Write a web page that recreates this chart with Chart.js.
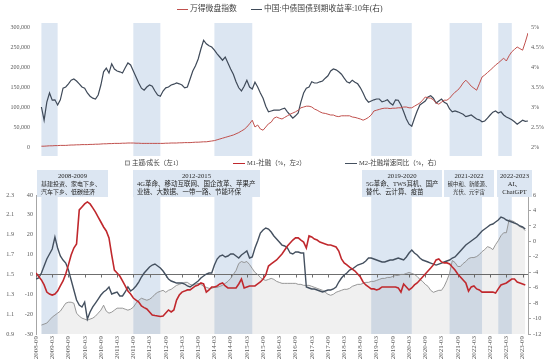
<!DOCTYPE html>
<html>
<head>
<meta charset="utf-8">
<script src="https://cdn.jsdelivr.net/npm/chart.js@4.4.0/dist/chart.umd.min.js"></script>
<style>
  html, body { margin: 0; padding: 0; background: #fff; }
  #wrap { position: relative; width: 550px; height: 363px; overflow: hidden; }
  canvas { position: absolute; left: 0; }
  #topChart { top: 0; }
  #bottomChart { top: 158px; }
</style>
</head>
<body>
<div id="wrap">
  <canvas id="topChart" width="550" height="158"></canvas>
  <canvas id="bottomChart" width="550" height="205"></canvas>
</div>
<script>
// month index 0 = 2008-09
const tickLabels = ['2008-09','2009-03','2009-09','2010-03','2010-09','2011-03','2011-09','2012-03','2012-09',
  '2013-03','2013-09','2014-03','2014-09','2015-03','2015-09','2016-03','2016-09','2017-03','2017-09',
  '2018-03','2018-09','2019-03','2019-09','2020-03','2020-09','2021-03','2021-09','2022-03','2022-09',
  '2023-03','2023-09'];

// shaded periods
const bandStart = ['2008-11', '2011-09', '2014-03', '2019-01', '2021-06', '2022-12'];
const bandEnd   = ['2009-05', '2012-07', '2015-05', '2020-04', '2022-06', '2023-05'];

const periodTitles = ['2008-2009', '2012-2015', '2019-2020', '2021-2022', '2022-2023'];
const periodThemes = [
  ['基建投资、家电下乡、', '汽车下乡、低碳经济'],
  ['4G革命、移动互联网、国企改革、苹果产', '业链、大数据、一带一路、节能环保'],
  ['5G革命、TWS耳机、国产', '替代、云计算、疫苗'],
  ['碳中和、新能源、', '光伏、元宇宙'],
  ['AI、', 'ChatGPT']
];

// top panel, monthly from 2008-11
const topStart = '2008-11';
const microcapIndex = [
  2000, 2000, 2500, 3000, 3000, 3500, 3500, 4000, 4000, 4000,
  4500, 5000, 5000, 5500, 5500, 6000, 6000, 6000, 6500, 6500,
  7000, 7000, 7500, 8000, 8000, 8500, 8500, 9000, 9000, 9000,
  9500, 9500, 10000, 10000, 10000, 9500, 9500, 9000, 9000, 9000,
  9000, 9000, 9000, 9000, 9000, 9000, 9500, 9500, 10000, 10000,
  10000, 10500, 10500, 11000, 11000, 11000, 11500, 12000, 12000, 12500,
  13000, 13000, 14000, 15000, 16000, 18000, 20000, 22000, 24000, 26000,
  28000, 30000, 33000, 36000, 40000, 44000, 50000, 58000, 67000, 50000,
  55000, 45000, 42000, 50000, 58000, 62000, 72000, 75000, 72000, 70000,
  74000, 78000, 82000, 85000, 88000, 92000, 98000, 100000, 102000, 102000,
  100000, 95000, 92000, 88000, 85000, 84000, 82000, 80000, 80000, 77000,
  76000, 78000, 78000, 78000, 78000, 75000, 74000, 72000, 70000, 67000,
  70000, 74000, 80000, 90000, 92000, 94000, 96000, 97000, 97000, 96000,
  97000, 97000, 98000, 98000, 100000, 100000, 98000, 98000, 102000, 106000,
  110000, 117000, 125000, 123000, 122000, 118000, 110000, 107000, 112000, 117000,
  117000, 122000, 130000, 137000, 142000, 150000, 160000, 167000, 160000, 152000,
  147000, 142000, 158000, 175000, 180000, 186000, 192000, 198000, 205000, 210000,
  216000, 222000, 215000, 228000, 238000, 244000, 250000, 246000, 242000, 262000,
  285000
];
const cgb10y = [
  3.00, 2.67, 3.12, 3.35, 3.17, 3.18, 3.05, 3.18, 3.47, 3.50,
  3.58, 3.67, 3.70, 3.65, 3.58, 3.50, 3.47, 3.35, 3.27, 3.22,
  3.20, 3.30, 3.55, 3.88, 3.97, 3.85, 4.08, 3.95, 3.90, 3.88,
  3.85, 3.98, 4.10, 4.05, 3.90, 3.75, 3.60, 3.47, 3.42, 3.50,
  3.55, 3.52, 3.40, 3.30, 3.27, 3.40, 3.48, 3.50, 3.55, 3.57,
  3.60, 3.58, 3.55, 3.48, 3.50, 3.70, 3.90, 4.03, 4.20, 4.45,
  4.67, 4.58, 4.53, 4.50, 4.42, 4.33, 4.25, 4.17, 4.25, 4.10,
  3.95, 3.82, 3.63, 3.48, 3.40, 3.52, 3.67, 3.50, 3.45, 3.62,
  3.50, 3.35, 3.22, 3.02, 2.88, 2.90, 2.92, 2.92, 2.92, 2.95,
  2.97, 2.88, 2.80, 2.72, 2.78, 2.85, 3.13, 3.35, 3.47, 3.50,
  3.63, 3.60, 3.60, 3.63, 3.65, 3.72, 3.78, 3.90, 3.95, 3.93,
  3.88, 3.82, 3.72, 3.63, 3.60, 3.67, 3.62, 3.58, 3.48, 3.35,
  3.20, 3.12, 3.15, 3.18, 3.20, 3.20, 3.13, 3.15, 3.18, 3.10,
  3.05, 3.18, 3.17, 3.05, 2.88, 2.70, 2.57, 2.52, 2.72, 2.90,
  3.05, 3.10, 3.15, 3.25, 3.28, 3.22, 3.10, 3.15, 3.20, 3.12,
  3.08, 2.95, 2.88, 2.90, 2.88, 2.85, 2.82, 2.76, 2.78, 2.80,
  2.75, 2.70, 2.68, 2.63, 2.65, 2.72, 2.80, 2.87, 2.90, 2.85,
  2.88, 2.80, 2.75, 2.72, 2.68, 2.63, 2.57, 2.62, 2.67, 2.64,
  2.65
];

// bottom panel, monthly from 2008-09 (theme ratio from 2008-11)
const gapStart = '2008-09';
const m1Gap = [
  0.7, -1.0, -2.8, -5.3, -8.9, -9.9, -10.4, -9.9, -8.4, -5.8,
  -3.3, 0.2, 4.8, 9.8, 13.3, 15.3, 32.5, 34.0, 35.5, 36.5,
  35.5, 33.5, 31.4, 28.9, 26.4, 23.9, 21.9, 18.4, 9.8, 2.2,
  0.7, -0.8, -3.3, -5.8, -8.4, -9.9, -11.9, -12.9, -13.9, -15.9,
  -16.7, -17.4, -18.9, -20.4, -20.7, -20.9, -21.2, -20.9, -19.4, -17.9,
  -18.9, -17.9, -12.9, -10.4, -8.9, -8.4, -7.8, -7.8, -6.8, -5.8,
  -5.3, -4.3, -4.8, -8.9, -7.8, -6.3, -6.3, -5.8, -4.8, -4.3,
  -5.8, -6.8, -6.8, -6.8, -6.8, -4.8, -2.3, -6.8, -6.3, -5.8,
  -5.8, -5.8, -4.8, -3.8, -2.3, -0.3, 4.2, 5.3, 6.3, 7.3,
  8.8, 10.3, 12.3, 14.3, 15.8, 17.3, 18.4, 18.4, 17.3, 16.3,
  13.3, 19.4, 18.9, 17.8, 17.3, 16.3, 15.8, 15.3, 14.8, 14.8,
  14.3, 13.8, 11.8, 7.8, 5.8, 4.8, 3.7, 2.7, 1.7, 0.2,
  -1.3, -3.8, -5.3, -6.3, -7.3, -7.3, -7.8, -7.3, -6.3, -6.3,
  -6.3, -6.3, -6.3, -6.3, -6.8, -8.9, -4.8, -6.3, -7.8, -6.8,
  -5.3, -4.3, -2.8, -1.3, 0.2, 1.7, 3.2, 4.8, 7.3, 7.8,
  6.3, 5.8, 5.8, 5.3, 3.7, 2.2, 0.2, -1.3, -2.8, -4.3,
  -8.4, -6.3, -5.8, -7.3, -7.8, -8.9, -8.9, -8.9, -8.9, -8.9,
  -9.4, -7.3, -5.3, -4.8, -4.3, -3.3, -2.3, -2.3, -3.8, -4.3,
  -4.8, -5.3
];
const m2Gap = [
  -4.88, -4.75, -4.10, -3.19, -2.29, -1.64, -0.99, 0.56, -0.86, -1.90,
  -2.42, -2.81, -3.71, -5.01, -6.30, -7.60, -8.25, -8.50, -7.86, -10.06,
  -9.15, -8.50, -7.99, -7.47, -6.95, -6.56, -6.30, -5.91, -6.82, -6.69,
  -6.56, -7.08, -7.08, -6.56, -5.91, -6.43, -6.17, -5.78, -5.27, -4.62,
  -4.10, -3.71, -3.32, -3.07, -2.94, -3.19, -3.45, -3.84, -4.36, -4.88,
  -5.14, -5.27, -5.40, -5.40, -5.40, -5.53, -5.78, -5.91, -5.66, -5.40,
  -5.14, -4.75, -4.49, -4.23, -4.10, -4.10, -3.07, -2.29, -1.90, -1.77,
  -2.03, -1.90, -1.64, -1.64, -1.90, -2.16, -1.77, -1.51, -1.25, -2.16,
  -2.03, -0.86, 0.04, 1.08, 1.47, 1.73, 1.60, 1.21, 0.69, 0.30,
  -0.09, -0.48, -0.60, -0.86, -1.51, -1.64, -1.38, -1.38, -1.51, -1.51,
  -5.91, -6.04, -6.17, -6.17, -6.30, -6.43, -6.56, -6.43, -6.30, -6.30,
  -6.17, -5.91, -5.27, -4.75, -4.36, -4.10, -3.71, -3.58, -3.32, -3.07,
  -2.94, -2.81, -2.55, -2.16, -2.16, -2.29, -2.42, -2.55, -2.68, -2.68,
  -2.55, -2.42, -2.42, -2.29, -2.16, -2.29, -2.42, -2.03, -1.51, -1.12,
  -1.51, -1.77, -2.16, -2.42, -2.55, -2.68, -2.81, -2.94, -3.07, -2.94,
  -2.81, -2.68, -2.55, -2.42, -2.16, -2.03, -1.64, -1.25, -0.86, -0.48,
  -0.22, 0.04, 0.30, 0.56, 0.95, 1.34, 1.60, 1.86, 2.12, 2.24,
  2.50, 2.76, 3.15, 3.02, 2.76, 2.63, 2.50, 2.37, 2.24, 1.99,
  1.86, 1.60
];
const themeStart = '2008-11';
const themeRatio = [
  0.99, 1.00, 1.01, 1.04, 1.07, 1.09, 1.11, 1.13, 1.17, 1.21,
  1.22, 1.22, 1.21, 1.11, 1.08, 1.06, 1.05, 1.04, 1.05, 1.06,
  1.08, 1.11, 1.14, 1.19, 1.13, 1.11, 1.12, 1.14, 1.16, 1.16,
  1.16, 1.15, 1.14, 1.15, 1.17, 1.21, 1.24, 1.26, 1.25, 1.24,
  1.25, 1.27, 1.30, 1.32, 1.33, 1.34, 1.32, 1.34, 1.35, 1.37,
  1.39, 1.40, 1.41, 1.42, 1.42, 1.40, 1.39, 1.40, 1.41, 1.40,
  1.38, 1.37, 1.36, 1.36, 1.37, 1.37, 1.38, 1.39, 1.41, 1.43,
  1.46, 1.50, 1.54, 1.61, 1.63, 1.62, 1.63, 1.60, 1.56, 1.52,
  1.50, 1.47, 1.45, 1.44, 1.45, 1.46, 1.45, 1.43, 1.42, 1.41,
  1.41, 1.41, 1.41, 1.41, 1.41, 1.40, 1.40, 1.39, 1.39, 1.39,
  1.38, 1.37, 1.36, 1.35, 1.34, 1.32, 1.30, 1.29, 1.30, 1.32,
  1.33, 1.34, 1.35, 1.35, 1.36, 1.38, 1.39, 1.40, 1.40, 1.41,
  1.42, 1.42, 1.43, 1.43, 1.44, 1.45, 1.46, 1.46, 1.47, 1.47,
  1.48, 1.49, 1.49, 1.50, 1.50, 1.51, 1.52, 1.51, 1.50, 1.48,
  1.45, 1.43, 1.40, 1.38, 1.34, 1.32, 1.33, 1.34, 1.34, 1.38,
  1.44, 1.51, 1.64, 1.62, 1.58, 1.58, 1.61, 1.63, 1.66, 1.67,
  1.67, 1.68, 1.70, 1.73, 1.75, 1.78, 1.77, 1.75, 1.80, 1.84,
  1.89, 1.92, 1.92, 2.05, 2.04, 2.03, 2.00, 1.98, 1.97, 1.94
];

const SERIF = "'Liberation Serif', 'Noto Sans CJK SC', serif";
const BAND = '#dce6f2';
Chart.defaults.font.family = SERIF;
Chart.defaults.color = '#595959';

function monthIndex(s) {
  const [y, m] = s.split('-').map(Number);
  return (y - 2008) * 12 + (m - 9);
}
function toPoints(values, start) {
  const m0 = monthIndex(start);
  return values.map((v, i) => ({ x: m0 + i, y: v }));
}

// shaded periods behind the lines
const bandPlugin = {
  id: 'bands',
  beforeDatasetsDraw(chart, args, opts) {
    const { ctx, chartArea, scales: { x } } = chart;
    ctx.save();
    ctx.fillStyle = BAND;
    bandStart.forEach((s, i) => {
      const x0 = x.getPixelForValue(monthIndex(s));
      const x1 = x.getPixelForValue(monthIndex(bandEnd[i]));
      const y0 = chartArea.top + opts.top;
      ctx.fillRect(x0, y0, x1 - x0, chartArea.bottom + opts.bottom - y0);
    });
    ctx.restore();
  }
};

// legend row drawn by hand so spacing matches
const legendRow = {
  id: 'legendRow',
  afterDraw(chart, args, opts) {
    const ctx = chart.ctx;
    ctx.save();
    ctx.font = opts.size + 'px ' + SERIF;
    ctx.textBaseline = 'middle';
    opts.items.forEach(it => {
      const ds = chart.data.datasets[it.dataset];
      if (it.kind === 'box') {
        ctx.fillStyle = '#f2f2f2';
        ctx.fillRect(it.x, opts.y - 2.5, 5, 5);
        ctx.strokeStyle = '#7f7f7f';
        ctx.lineWidth = 0.8;
        ctx.strokeRect(it.x + 0.5, opts.y - 2, 4, 4);
      } else {
        ctx.strokeStyle = ds.borderColor;
        ctx.lineWidth = 1;
        ctx.beginPath();
        ctx.moveTo(it.x, opts.y + 0.5);
        ctx.lineTo(it.x + opts.sym, opts.y + 0.5);
        ctx.stroke();
      }
      ctx.fillStyle = '#404040';
      ctx.fillText(ds.label, it.x + (it.kind === 'box' ? 7 : opts.sym + 2), opts.y);
    });
    ctx.restore();
  }
};

// x axis drawn through zero of the M1 scale
const zeroLine = {
  id: 'zeroLine',
  beforeDatasetsDraw(chart) {
    const { ctx, chartArea, scales: { x, yM1 } } = chart;
    const y = Math.round(yM1.getPixelForValue(0)) + 0.5;
    ctx.save();
    ctx.strokeStyle = '#6f6f6f';
    ctx.lineWidth = 1;
    ctx.beginPath();
    ctx.moveTo(chartArea.left, y);
    ctx.lineTo(chartArea.right, y);
    tickLabels.forEach((t, i) => {
      const xx = Math.round(x.getPixelForValue(i * 6)) + 0.5;
      ctx.moveTo(xx, y);
      ctx.lineTo(xx, y + 3);
    });
    ctx.stroke();
    ctx.restore();
  }
};

// period notes above the lower panel
const boxLayout = [
  { x: 37, w: 71, size: 6, align: 'left' },
  { x: 133, w: 127, size: 6.5, align: 'left' },
  { x: 362, w: 80, size: 6.4, align: 'left' },
  { x: 444, w: 50, size: 5.3, align: 'center' },
  { x: 497, w: 35, size: 6.5, align: 'center' }
];
const noteBoxes = {
  id: 'noteBoxes',
  afterDraw(chart) {
    const ctx = chart.ctx;
    ctx.save();
    ctx.textBaseline = 'middle';
    periodTitles.forEach((title, i) => {
      const b = boxLayout[i];
      ctx.fillStyle = BAND;
      ctx.fillRect(b.x, 12, b.w, 27);
      ctx.fillStyle = '#262626';
      ctx.textAlign = 'center';
      ctx.font = '6.7px ' + SERIF;
      ctx.fillText(title, b.x + b.w / 2, 18);
      ctx.font = b.size + 'px ' + SERIF;
      ctx.textAlign = b.align;
      const tx = b.align === 'center' ? b.x + b.w / 2 : b.x + 4;
      periodThemes[i].forEach((line, j) => ctx.fillText(line, tx, 26.5 + j * 8));
    });
    ctx.restore();
  }
};

const tickFont = { family: SERIF, size: 6.2 };

new Chart(document.getElementById('topChart'), {
  type: 'line',
  data: {
    datasets: [
      {
        label: '万得微盘指数',
        data: toPoints(microcapIndex, topStart),
        yAxisID: 'yL',
        borderColor: '#c0504d',
        borderWidth: 1,
        pointRadius: 0,
        tension: 0
      },
      {
        label: '中国:中债国债到期收益率:10年(右)',
        data: toPoints(cgb10y, topStart),
        yAxisID: 'yR',
        borderColor: '#3f4a59',
        borderWidth: 1.2,
        pointRadius: 0,
        tension: 0
      }
    ]
  },
  options: {
    responsive: false,
    animation: false,
    events: [],
    layout: { padding: { top: 27, bottom: 11, left: 0, right: 0 } },
    plugins: {
      legend: { display: false },
      tooltip: { enabled: false },
      bands: { top: -4, bottom: 9 },
      legendRow: {
        y: 9, size: 7.8, sym: 11,
        items: [{ dataset: 0, x: 177 }, { dataset: 1, x: 251 }]
      }
    },
    scales: {
      x: { type: 'linear', min: 0, max: 182, display: false },
      yL: {
        position: 'left',
        min: 0, max: 300000,
        ticks: { stepSize: 50000, padding: 6, font: { family: SERIF, size: 6 },
          callback: v => v.toLocaleString('en-US') },
        grid: { display: false, drawTicks: false },
        border: { display: false },
        afterFit: s => { s.width = 36; }
      },
      yR: {
        position: 'right',
        min: 2, max: 5,
        ticks: { stepSize: 0.5, padding: 3, font: tickFont, callback: v => v + '%' },
        grid: { display: false, drawTicks: false },
        border: { display: false },
        afterFit: s => { s.width = 22; }
      }
    }
  },
  plugins: [bandPlugin, legendRow]
});

new Chart(document.getElementById('bottomChart'), {
  type: 'line',
  data: {
    datasets: [
      {
        label: 'M1-社融（%，左2）',
        data: toPoints(m1Gap, gapStart),
        yAxisID: 'yM1',
        borderColor: '#c0282d',
        borderWidth: 1.6,
        pointRadius: 0,
        tension: 0
      },
      {
        label: 'M2-社融增速同比（%，右）',
        data: toPoints(m2Gap, gapStart),
        yAxisID: 'yM2',
        borderColor: '#44505f',
        borderWidth: 1.4,
        pointRadius: 0,
        tension: 0
      },
      {
        label: '主题/成长（左1）',
        data: toPoints(themeRatio, themeStart),
        yAxisID: 'yTheme',
        borderColor: '#8c8c8c',
        borderWidth: 0.9,
        backgroundColor: 'rgba(0,0,0,0.06)',
        fill: 'start',
        pointRadius: 0,
        tension: 0
      }
    ]
  },
  options: {
    responsive: false,
    animation: false,
    events: [],
    layout: { padding: { top: 37, bottom: 0, left: 0, right: 0 } },
    plugins: {
      legend: { display: false },
      tooltip: { enabled: false },
      bands: { top: 0, bottom: 0 },
      legendRow: {
        y: 5, size: 6.5, sym: 12,
        items: [{ dataset: 2, x: 125, kind: 'box' }, { dataset: 0, x: 233 }, { dataset: 1, x: 345 }]
      }
    },
    scales: {
      x: {
        type: 'linear', min: 0, max: 182,
        afterBuildTicks: s => { s.ticks = tickLabels.map((t, i) => ({ value: i * 6 })); },
        ticks: { autoSkip: false, minRotation: 90, maxRotation: 90, padding: 2,
          font: { family: SERIF, size: 7 }, callback: (v, i) => tickLabels[i] },
        grid: { display: false, drawTicks: false },
        border: { display: false },
        afterFit: s => { s.height = 29; }
      },
      yTheme: {
        position: 'left', weight: 1,
        min: 0.9, max: 2.3,
        ticks: { stepSize: 0.2, padding: 2, font: tickFont, callback: v => v.toFixed(1) },
        grid: { display: false, drawTicks: false },
        border: { display: false },
        afterFit: s => { s.width = 16; }
      },
      yM1: {
        position: 'left', weight: 0,
        min: -30, max: 40,
        ticks: { stepSize: 10, padding: 3, font: tickFont },
        grid: { drawOnChartArea: false, drawTicks: false },
        border: { display: true, color: '#a6a6a6', width: 1 },
        afterFit: s => { s.width = 20; }
      },
      yM2: {
        position: 'right',
        min: -12, max: 6,
        ticks: { stepSize: 2, padding: 2, font: tickFont },
        grid: { drawOnChartArea: false, drawTicks: true, tickLength: 3, color: '#a6a6a6' },
        border: { display: true, color: '#a6a6a6', width: 1 },
        afterFit: s => { s.width = 22; }
      }
    }
  },
  plugins: [bandPlugin, zeroLine, legendRow, noteBoxes]
});
</script>
</body>
</html>
